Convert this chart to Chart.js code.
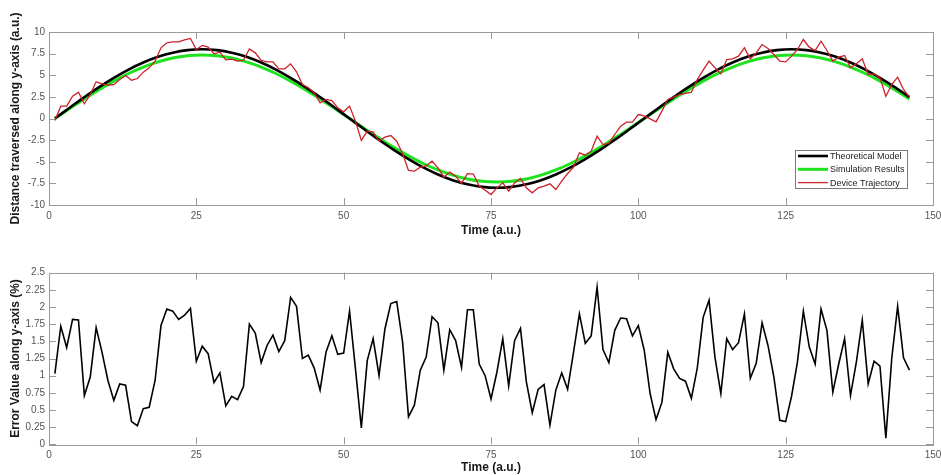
<!DOCTYPE html>
<html>
<head>
<meta charset="utf-8">
<script src="https://cdn.jsdelivr.net/npm/chart.js@4.4.0/dist/chart.umd.min.js"></script>
<style>
  html, body { margin: 0; padding: 0; background: #fff; }
  #wrap { position: relative; width: 941px; height: 475px; overflow: hidden; }
  canvas { position: absolute; left: 0; }
  #top { top: 0; }
  #bottom { top: 250px; }
</style>
</head>
<body>
<div id="wrap">
  <canvas id="top" width="941" height="250"></canvas>
  <canvas id="bottom" width="941" height="225"></canvas>
</div>
<script>
'use strict';

// smooth curves sampled every 2.5 time units, starting at t = 1
const modelStart = 1;
const modelStep = 2.5;
const theoreticalModel = [
  0, 1.25, 2.47, 3.63, 4.70, 5.66, 6.47, 7.13, 7.61, 7.90, 8.00,
  7.90, 7.61, 7.13, 6.47, 5.66, 4.70, 3.63, 2.47, 1.25, 0,
  -1.25, -2.47, -3.63, -4.70, -5.66, -6.47, -7.13, -7.61, -7.90, -8.00,
  -7.90, -7.61, -7.13, -6.47, -5.66, -4.70, -3.63, -2.47, -1.25, 0,
  1.25, 2.47, 3.63, 4.70, 5.66, 6.47, 7.13, 7.61, 7.90, 8.00,
  7.90, 7.61, 7.13, 6.47, 5.66, 4.70, 3.63, 2.47
];
const simulationResults = [
  0, 1.15, 2.27, 3.34, 4.32, 5.20, 5.95, 6.55, 6.99, 7.26, 7.35,
  7.26, 6.99, 6.55, 5.95, 5.20, 4.32, 3.34, 2.27, 1.15, 0,
  -1.15, -2.27, -3.34, -4.32, -5.20, -5.95, -6.55, -6.99, -7.26, -7.35,
  -7.26, -6.99, -6.55, -5.95, -5.20, -4.32, -3.34, -2.27, -1.15, 0,
  1.15, 2.27, 3.34, 4.32, 5.20, 5.95, 6.55, 6.99, 7.26, 7.35,
  7.26, 6.99, 6.55, 5.95, 5.20, 4.32, 3.34, 2.27
];

// measured samples, one per time unit, t = 1 .. 146
const deviceTrajectory = [
  -0.23, 1.43, 1.43, 2.58, 3.04, 1.70, 2.77, 4.24, 4.01, 3.85,
  3.93, 4.51, 4.97, 4.43, 4.62, 5.36, 5.86, 6.63, 8.17, 8.75,
  8.86, 8.86, 9.09, 9.25, 7.98, 8.44, 8.25, 7.48, 7.67, 6.78,
  6.86, 6.63, 6.74, 8.05, 7.59, 6.71, 6.55, 6.55, 5.74, 5.74,
  6.32, 5.40, 3.93, 3.55, 2.97, 1.81, 2.20, 2.08, 1.23, 0.77,
  1.43, -0.31, -2.54, -1.46, -1.54, -2.62, -2.16, -1.97, -2.62, -4.08,
  -6.01, -6.09, -5.63, -5.47, -4.93, -5.70, -6.78, -6.20, -6.67, -7.50,
  -6.38, -6.42, -7.82, -8.29, -8.79, -8.02, -7.44, -8.40, -7.44, -6.94,
  -8.02, -8.59, -8.02, -7.82, -7.55, -8.21, -7.24, -6.36, -5.63, -3.97,
  -4.24, -3.78, -2.04, -3.01, -2.85, -1.85, -0.89, -0.42, -0.42, 0.46,
  0.31, -0.04, -0.39, 0.85, 2.20, 2.47, 2.77, 2.90, 3.04, 4.50,
  5.60, 6.63, 5.86, 5.16, 6.82, 6.90, 7.21, 8.17, 6.90, 7.59,
  8.55, 8.09, 7.40, 6.63, 6.55, 7.21, 7.98, 9.13, 8.25, 7.86,
  8.94, 7.86, 6.63, 7.09, 7.28, 5.86, 6.32, 6.90, 5.09, 5.16,
  4.70, 2.58, 3.93, 4.78, 3.35, 2.47
];
const errorValues = [
  1.03, 1.72, 1.41, 1.82, 1.81, 0.71, 0.98, 1.70, 1.34, 0.93,
  0.64, 0.88, 0.86, 0.33, 0.27, 0.52, 0.54, 0.93, 1.73, 1.97,
  1.94, 1.82, 1.88, 1.98, 1.21, 1.43, 1.32, 0.90, 1.04, 0.56,
  0.70, 0.65, 0.84, 1.75, 1.62, 1.19, 1.44, 1.59, 1.35, 1.51,
  2.14, 2.01, 1.25, 1.30, 1.11, 0.79, 1.34, 1.58, 1.31, 1.33,
  1.94, 1.10, 0.24, 1.22, 1.54, 1.00, 1.68, 2.05, 2.08, 1.49,
  0.40, 0.57, 1.08, 1.27, 1.86, 1.77, 1.08, 1.67, 1.51, 1.12,
  1.96, 1.96, 1.17, 1.00, 0.66, 1.05, 1.54, 0.85, 1.51, 1.69,
  0.91, 0.46, 0.80, 0.87, 0.28, 0.79, 1.04, 0.80, 1.34, 1.90,
  1.47, 1.58, 2.29, 1.38, 1.19, 1.66, 1.84, 1.83, 1.58, 1.73,
  1.37, 0.74, 0.36, 0.61, 1.34, 1.10, 0.96, 0.92, 0.67, 1.11,
  1.85, 2.10, 1.27, 0.74, 1.54, 1.38, 1.48, 1.90, 0.96, 1.18,
  1.77, 1.44, 0.98, 0.35, 0.33, 0.70, 1.20, 1.94, 1.42, 1.17,
  1.97, 1.66, 0.76, 1.17, 1.54, 0.71, 1.20, 1.81, 0.88, 1.21,
  1.14, 0.09, 1.25, 2.01, 1.26, 1.08
];

const seriesNames = ['Theoretical Model', 'Simulation Results', 'Device Trajectory'];
const xTitle = 'Time (a.u.)';
const yTitleTop = 'Distance traversed along y-axis (a.u.)';
const yTitleBottom = 'Error Value along y-axis (%)';

const modelPoints = vals => vals.map((v, i) => ({ x: modelStart + i * modelStep, y: v }));
const samplePoints = vals => vals.map((v, i) => ({ x: i + 1, y: v }));

Chart.defaults.font.family = "'Liberation Sans', Arial, sans-serif";
Chart.defaults.devicePixelRatio = 1;

const AXIS = '#9a9a9a';
const LABEL = '#555555';
const TITLE = '#1a1a1a';

// matlab style box with inward ticks on all four sides
const boxPlugin = {
  id: 'boxPlugin',
  beforeDatasetsDraw(chart) {
    const { ctx, chartArea: a, scales } = chart;
    const len = 7;
    ctx.save();
    ctx.strokeStyle = AXIS;
    ctx.lineWidth = 1;
    ctx.beginPath();
    scales.x.ticks.forEach(t => {
      const p = Math.round(scales.x.getPixelForValue(t.value)) + 0.5;
      ctx.moveTo(p, a.bottom); ctx.lineTo(p, a.bottom - len);
      ctx.moveTo(p, a.top); ctx.lineTo(p, a.top + len);
    });
    scales.y.ticks.forEach(t => {
      const p = Math.round(scales.y.getPixelForValue(t.value)) + 0.5;
      ctx.moveTo(a.left, p); ctx.lineTo(a.left + len, p);
      ctx.moveTo(a.right, p); ctx.lineTo(a.right - len, p);
    });
    ctx.stroke();
    ctx.strokeRect(Math.round(a.left) + 0.5, Math.round(a.top) + 0.5,
      Math.round(a.right - a.left), Math.round(a.bottom - a.top));
    ctx.restore();
  }
};

// legend box drawn inside the lower right corner of the plot
const insideLegend = {
  id: 'insideLegend',
  afterDatasetsDraw(chart) {
    const { ctx, chartArea: a } = chart;
    const w = 112, h = 38, row = 13.3;
    const x0 = a.right - 26 - w, y0 = a.bottom - 17 - h;
    ctx.save();
    ctx.fillStyle = '#fff';
    ctx.fillRect(x0, y0, w, h);
    ctx.strokeStyle = '#7a7a7a';
    ctx.lineWidth = 1;
    ctx.strokeRect(Math.round(x0) + 0.5, Math.round(y0) + 0.5, w, h);
    ctx.font = "9px 'Liberation Sans', Arial, sans-serif";
    ctx.textBaseline = 'middle';
    seriesNames.forEach((name, i) => {
      const ds = chart.data.datasets.find(d => d.label === name);
      const cy = y0 + 6 + row * i;
      ctx.strokeStyle = ds.borderColor;
      ctx.lineWidth = ds.borderWidth;
      ctx.beginPath();
      ctx.moveTo(x0 + 3, cy); ctx.lineTo(x0 + 33, cy);
      ctx.stroke();
      ctx.fillStyle = '#222';
      ctx.fillText(name, x0 + 35, cy + 0.5);
    });
    ctx.restore();
  }
};

function axes(yMin, yMax, yStep, yTitle, xHeight, xTitlePad) {
  return {
    x: {
      type: 'linear', min: 0, max: 150,
      grid: { display: false, drawTicks: false },
      border: { display: false },
      ticks: { stepSize: 25, padding: 5, color: LABEL, font: { size: 10 },
        maxRotation: 0, callback: v => String(v) },
      title: { display: true, text: xTitle, color: TITLE,
        font: { size: 12, weight: 'bold' }, padding: { top: 0, bottom: xTitlePad } },
      afterFit(s) { s.height = xHeight; s.paddingLeft = 0; s.paddingRight = 0; }
    },
    y: {
      min: yMin, max: yMax,
      grid: { display: false, drawTicks: false },
      border: { display: false },
      ticks: { stepSize: yStep, padding: 4, color: LABEL, font: { size: 10 },
        callback: v => String(v) },
      title: { display: true, text: yTitle, color: TITLE,
        font: { size: 12, weight: 'bold' }, padding: { top: 8, bottom: 0 } },
      afterFit(s) { s.width = 49; s.paddingTop = 0; s.paddingBottom = 0; }
    }
  };
}

new Chart(document.getElementById('top'), {
  type: 'line',
  data: {
    datasets: [
      { label: seriesNames[0], data: modelPoints(theoreticalModel), borderColor: '#000000',
        borderWidth: 2.6, pointRadius: 0, tension: 0.4, order: 1 },
      { label: seriesNames[1], data: modelPoints(simulationResults), borderColor: '#1fe21f',
        borderWidth: 3, pointRadius: 0, tension: 0.4, order: 2 },
      { label: seriesNames[2], data: samplePoints(deviceTrajectory), borderColor: '#cc2229',
        borderWidth: 1.3, pointRadius: 0, tension: 0, order: 0 }
    ]
  },
  options: {
    responsive: false,
    animation: false,
    layout: { padding: { top: 32, right: 8, bottom: 0, left: 0 } },
    plugins: { legend: { display: false }, tooltip: { enabled: false } },
    scales: axes(-10, 10, 2.5, yTitleTop, 45, 12)
  },
  plugins: [boxPlugin, insideLegend]
});

new Chart(document.getElementById('bottom'), {
  type: 'line',
  data: {
    datasets: [
      { label: 'Error', data: samplePoints(errorValues), borderColor: '#000000',
        borderWidth: 1.6, pointRadius: 0, tension: 0 }
    ]
  },
  options: {
    responsive: false,
    animation: false,
    layout: { padding: { top: 22.7, right: 8, bottom: 0, left: 0 } },
    plugins: { legend: { display: false }, tooltip: { enabled: false } },
    scales: axes(0, 2.5, 0.25, yTitleBottom, 30.7, 0)
  },
  plugins: [boxPlugin]
});
</script>
</body>
</html>
